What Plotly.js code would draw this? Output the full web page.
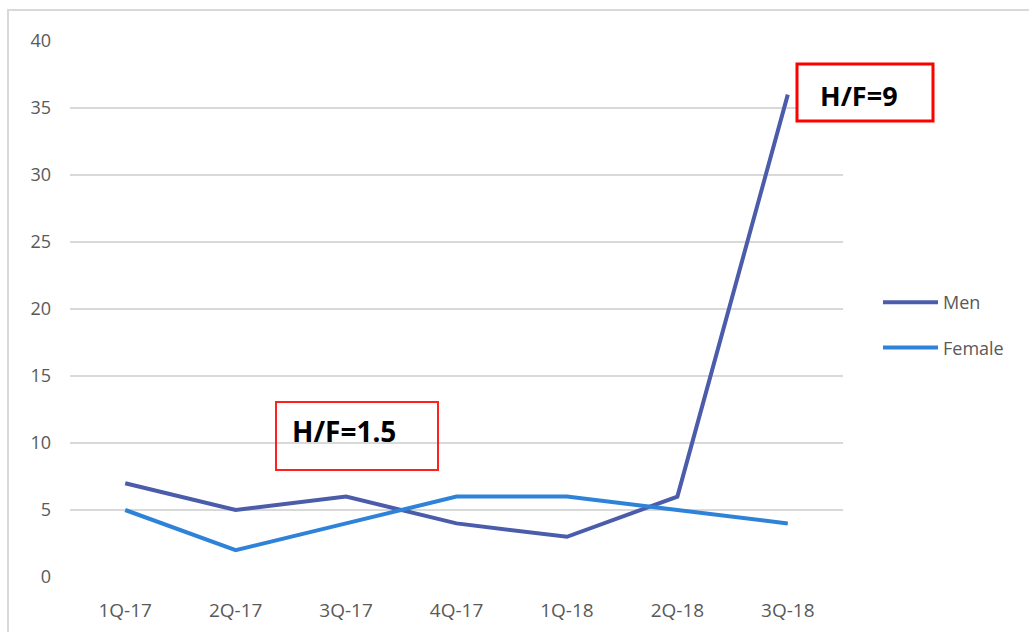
<!DOCTYPE html>
<html>
<head>
<meta charset="utf-8">
<script src="https://cdn.plot.ly/plotly-3.0.1.min.js"></script>
<style>html,body{margin:0;padding:0;background:#fff;}#chart{width:1029px;height:632px;}</style>
</head>
<body>
<div id="chart"></div>
<script>
const categories = ["1Q-17","2Q-17","3Q-17","4Q-17","1Q-18","2Q-18","3Q-18"];
const menValues = [7, 5, 6, 4, 3, 6, 36];
const femaleValues = [5, 2, 4, 6, 6, 5, 4];
const yTicks = [0, 5, 10, 15, 20, 25, 30, 35, 40];
const noteLabels = ["H/F=9", "H/F=1.5"];

const W = 1029, H = 632;
const M = {l: 70, r: 186, t: 41, b: 55};
const pw = W - M.l - M.r, ph = H - M.t - M.b;
const px = x => (x - M.l) / pw;
const py = y => (H - M.b - y) / ph;

const traces = [
  {x: categories, y: menValues, name: "Men", type: "scatter", mode: "lines",
   line: {color: "#4a5caa", width: 4}, legendgroup: "a"},
  {x: categories, y: femaleValues, name: "Female", type: "scatter", mode: "lines",
   line: {color: "#2e83d8", width: 4}, legendgroup: "b"}
];

const layout = {
  width: W, height: H,
  margin: M,
  paper_bgcolor: "#fff", plot_bgcolor: "#fff",
  font: {family: "Open Sans, sans-serif", color: "#595959", size: 18},
  showlegend: true,
  legend: {x: px(878), y: py(284), xanchor: "left", yanchor: "top",
           font: {size: 18, color: "#595959"}, tracegroupgap: 19, itemwidth: 55,
           bgcolor: "rgba(0,0,0,0)"},
  xaxis: {type: "category", range: [-0.5, 6.5], showgrid: false, zeroline: false,
          showline: false, ticks: "", ticklabelstandoff: 20,
          tickfont: {size: 19, color: "#595959"}},
  yaxis: {range: [0, 40], tickvals: yTicks, showgrid: true, gridcolor: "#d9d9d9",
          gridwidth: 1.5, zeroline: false, showline: false, ticks: "",
          ticklabelstandoff: 18, tickfont: {size: 18, color: "#595959"}},
  shapes: [
    {type: "rect", xref: "paper", yref: "paper", x0: px(8), x1: px(1040), y0: py(10), y1: py(650),
     line: {color: "#d9d9d9", width: 2}, fillcolor: "rgba(0,0,0,0)", layer: "below"},
    {type: "rect", xref: "paper", yref: "paper", x0: px(797), x1: px(933), y0: py(64), y1: py(121),
     line: {color: "#ff0000", width: 3}, fillcolor: "#fff"},
    {type: "rect", xref: "paper", yref: "paper", x0: px(276), x1: px(438), y0: py(402), y1: py(470),
     line: {color: "#ff2020", width: 2}, fillcolor: "rgba(0,0,0,0)"}
  ],
  annotations: [
    {xref: "paper", yref: "paper", x: px(818), y: py(95), xanchor: "left", yanchor: "middle",
     text: "<b>" + noteLabels[0] + "</b>", showarrow: false,
     font: {family: "Noto Sans, sans-serif", size: 27, color: "#000"}},
    {xref: "paper", yref: "paper", x: px(290), y: py(431), xanchor: "left", yanchor: "middle",
     text: "<b>" + noteLabels[1] + "</b>", showarrow: false,
     font: {family: "Noto Sans, sans-serif", size: 28, color: "#000"}}
  ]
};

Plotly.newPlot("chart", traces, layout, {displayModeBar: false, staticPlot: true});
</script>
</body>
</html>
